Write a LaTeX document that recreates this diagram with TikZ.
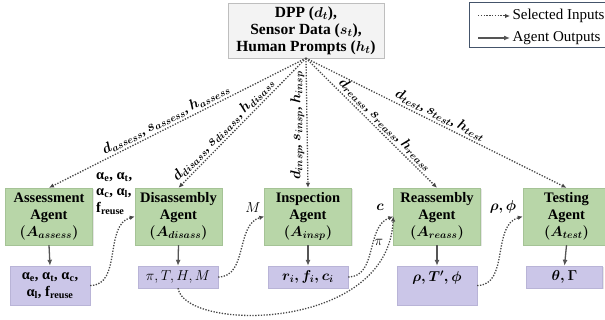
\documentclass[tikz,border=0pt]{standalone}
\usepackage{fontspec}
\setmainfont{Liberation Serif}
\usetikzlibrary{arrows.meta,shadows}
\DeclareMathSizes{13.5}{13.5}{10}{8}
\definecolor{gfill}{RGB}{184,214,168}
\definecolor{gline}{RGB}{165,195,150}
\definecolor{pfill}{RGB}{203,198,232}
\definecolor{pline}{RGB}{185,180,215}
\definecolor{tfill}{RGB}{243,243,243}
\definecolor{tline}{RGB}{190,190,190}
\definecolor{dotc}{RGB}{70,70,70}
\definecolor{arrc}{RGB}{85,85,85}
\definecolor{legc}{RGB}{68,84,106}
\newcommand\agentfont{\fontsize{14.5}{16.8}\selectfont\bfseries\boldmath}
\newcommand\topfont{\fontsize{15.5}{17}\selectfont\bfseries\boldmath}
\newcommand\plainfont{\fontsize{14.5}{17}\selectfont}
\newcommand\labfont{\fontsize{13.5}{16}\selectfont\bfseries\boldmath}
\newcommand\legfont{\fontsize{15}{16}\selectfont}
\newcommand\sub[1]{\textsubscript{#1}}
\begin{document}
\begin{tikzpicture}[x=1pt,y=-1pt,
  shad/.style={drop shadow={opacity=0.2,shadow xshift=1pt,shadow yshift=-1pt}},
  agent/.style={shad,draw=gline,fill=gfill,minimum width=87pt,minimum height=57pt,align=center,font=\agentfont,inner sep=1pt},
  outbox/.style={shad,draw=pline,fill=pfill,minimum width=80pt,minimum height=22pt,align=center,font=\agentfont,inner sep=1pt},
  sel/.style={draw=dotc,line width=1.3pt,dash pattern=on 1.3pt off 1.5pt,-{Latex[length=5pt,width=4.5pt]}},
  outarr/.style={draw=arrc,line width=1.3pt,-{Latex[length=6pt,width=5pt]}},
  lab/.style={font=\labfont,inner sep=2pt}]
\useasboundingbox (0,0) rectangle (605,320);
% top source
\node[shad,draw=tline,fill=tfill,minimum width=156pt,minimum height=55pt,align=center,font=\topfont,inner sep=1pt] (top) at (306,30.5)
  {DPP ($d_t$),\\ Sensor Data ($s_t$),\\ Human Prompts ($h_t$)};
% legend
\node[draw=legc,line width=1pt,minimum width=143pt,minimum height=45pt,inner sep=0pt] (leg) at (540.5,25.5) {};
\coordinate (l1a) at (478,16); \coordinate (l1b) at (510,16);
\coordinate (l2a) at (478,38); \coordinate (l2b) at (510,38);
\draw[sel,line width=1pt] (l1a) -- (l1b) node[right,font=\legfont,inner sep=2pt] (lt1) {Selected Inputs};
\draw[outarr,line width=1.2pt] (l2a) -- (l2b) node[right,font=\legfont,inner sep=2pt] (lt2) {Agent Outputs};
% agents
\node[agent] (gA) at (49,216.5) {Assessment\\ Agent\\ $(A_{assess})$};
\node[agent] (gD) at (178.5,216.5) {Disassembly\\ Agent\\ $(A_{disass})$};
\node[agent] (gI) at (308,216.5) {Inspection\\ Agent\\ $(A_{insp})$};
\node[agent] (gR) at (437,216.5) {Reassembly\\ Agent\\ $(A_{reass})$};
\node[agent] (gT) at (566.5,216.5) {Testing\\ Agent\\ $(A_{test})$};
% outputs
\node[outbox,minimum height=39pt] (pA) at (50,285.5) {α\sub{e}, α\sub{t}, α\sub{c},\\ α\sub{l}, f\sub{reuse}};
\node[outbox,font=\plainfont] (pD) at (178,277) {$\pi, T, H, M$};
\node[outbox] (pI) at (308,277) {$r_i, f_i, c_i$};
\node[outbox,minimum height=39pt,text height=10pt,text depth=17pt] (pR) at (437,285.5) {$\rho, T', \phi$};
\node[outbox,minimum width=76pt] (pT) at (564.5,277) {$\theta, \Gamma$};
% agent outputs
\foreach \g/\p in {gA/pA,gD/pD,gI/pI,gR/pR,gT/pT}
  \draw[outarr] (\g.south) -- (\p.north);
% selected inputs
\draw[sel] (top.south) -- node[lab,sloped,above,pos=0.53] {$d_{assess}$, $s_{assess}$, $h_{assess}$} (gA.north);
\draw[sel] (top.south) -- node[lab,sloped,above,pos=0.6] {$d_{disass}$, $s_{disass}$, $h_{disass}$} (gD.north);
\draw[sel] (top.south) -- node[lab,rotate=90,above,pos=0.52] {$d_{insp}$, $s_{insp}$, $h_{insp}$} (gI.north);
\draw[sel] (top.south) -- node[lab,sloped,above,pos=0.56] {$d_{reass}$, $s_{reass}$, $h_{reass}$} (gR.north);
\draw[sel] (top.south) -- node[lab,sloped,above,pos=0.5] {$d_{test}$, $s_{test}$, $h_{test}$} (gT.north);
% hand-offs
\draw[sel] (pA.east) to[out=0,in=195] (gD.west);
\draw[sel] (pD.east) to[out=0,in=195] (gI.west);
\draw[sel] (pI.east) to[out=0,in=200] (gR.west);
\draw[sel] (pD.south) .. controls (185,332) and (388,332) .. (gR.west);
\draw[sel] (pR.east) to[out=0,in=195] (gT.west);
% hand-off labels
\node[lab,align=left,anchor=north west,font=\fontsize{14.5}{16.5}\selectfont\bfseries] (hA) at (94,170) {α\sub{e}, α\sub{t},\\ α\sub{c}, α\sub{l},\\ f\sub{reuse}};
\node[lab,font=\plainfont] (hM) at (253,208) {$M$};
\node[lab,font=\agentfont] (hc) at (380,207) {$c$};
\node[lab,font=\plainfont] (hp) at (379,242) {$\pi$};
\node[lab,font=\agentfont] (hr) at (503,207) {$\rho, \phi$};
\end{tikzpicture}
\end{document}
